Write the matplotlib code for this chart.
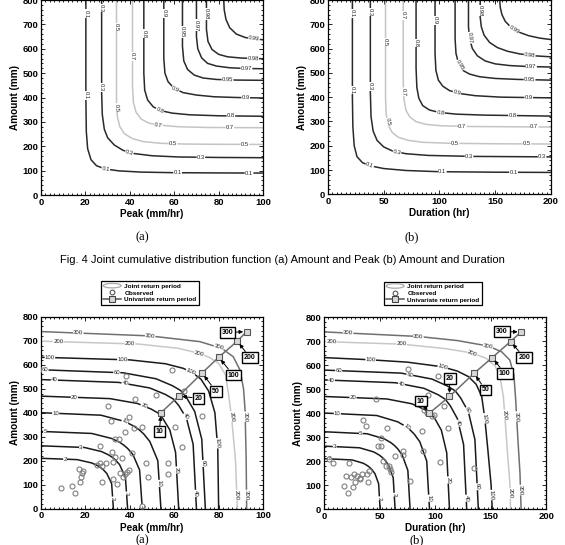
import numpy as np
import matplotlib
matplotlib.use('Agg')
import matplotlib.pyplot as plt
from matplotlib.ticker import MultipleLocator
from matplotlib.lines import Line2D
from matplotlib.patches import Ellipse, Patch
from matplotlib.legend_handler import HandlerPatch

plt.rcParams['font.family'] = ['Liberation Sans', 'DejaVu Sans']

# ---- Fig. 4: joint CDF contours ----
cdf_levels = ['0.1', '0.3', '0.5', '0.7', '0.8', '0.9', '0.95', '0.97', '0.98', '0.99']

peak_x = [[20.2, 20.2, 20.4, 21, 22.5, 25, 29, 35, 45, 60, 80, 100],
          [27.3, 27.3, 27.6, 28.5, 30, 33, 37, 42, 50, 62, 80, 100],
          [34, 34, 34.4, 35.5, 37.5, 41, 46, 54, 65, 80, 100],
          [41.2, 41.2, 41.6, 42.8, 45, 48.5, 53, 62, 75, 100],
          [46.3, 46.3, 46.7, 48, 50.5, 54, 59, 67, 80, 100],
          [55.3, 55.3, 55.8, 57.2, 60, 64, 70, 78, 88, 100],
          [63.7, 63.7, 64.3, 66, 69, 73, 79, 88, 100],
          [70, 70, 70.6, 72.3, 75, 79, 85, 92, 100],
          [74.5, 74.5, 75.2, 77, 80, 84, 90, 100],
          [82.3, 82.5, 83.3, 85, 88, 92, 96, 100]]
peak_y = [[800, 400, 260, 190, 145, 120, 107, 99, 94, 91.5, 90.5, 90],
          [800, 420, 330, 270, 235, 205, 183, 170, 161, 156, 154, 153],
          [800, 380, 320, 280, 252, 232, 219, 212, 209, 208, 207.5],
          [800, 450, 380, 340, 312, 295, 287, 280, 277, 276],
          [800, 500, 430, 390, 362, 346, 336, 329, 325, 323],
          [800, 560, 500, 465, 437, 420, 410, 403, 400, 398],
          [800, 610, 550, 515, 492, 480, 474, 471.5, 470.5],
          [800, 650, 600, 563, 540, 529, 522, 519, 518],
          [800, 680, 630, 597, 577, 567, 562, 559],
          [800, 760, 720, 686, 660, 646, 640, 637]]

dur_x = [[21.9, 21.9, 22.3, 23.5, 26, 31, 38, 50, 70, 100, 150, 200],
         [38, 38, 38.6, 40.5, 44, 50, 58, 70, 90, 130, 200],
         [51.6, 51.6, 52.2, 54, 57.5, 63, 72, 85, 110, 150, 200],
         [67.5, 67.5, 68.2, 70, 73.5, 79, 88, 102, 130, 200],
         [79, 79, 79.7, 81.5, 85, 91, 100, 115, 140, 200],
         [96, 96, 96.8, 99, 103, 109, 118, 132, 155, 200],
         [114, 114, 114.8, 117, 121, 127, 136, 150, 170, 200],
         [126, 126, 127, 129.5, 134, 141, 150, 163, 180, 200],
         [136.5, 136.5, 137.5, 140, 145, 152, 161, 172, 186, 200],
         [154, 154.5, 156, 159, 164, 171, 180, 190, 200]]
dur_y = [[800, 400, 280, 200, 155, 130, 117, 106, 98, 93, 91, 90],
         [800, 420, 320, 260, 222, 195, 178, 167, 160, 156, 154],
         [800, 400, 330, 285, 255, 235, 222, 214, 210, 208, 207],
         [800, 460, 390, 345, 318, 299, 288, 282, 279, 277],
         [800, 520, 440, 395, 365, 347, 337, 330, 326, 322],
         [800, 580, 510, 470, 445, 427, 415, 406, 400, 397],
         [800, 640, 580, 540, 510, 495, 484, 477, 473, 470],
         [800, 690, 640, 600, 570, 549, 537, 530, 526, 524],
         [800, 730, 690, 655, 625, 604, 589, 578, 570, 566],
         [800, 770, 740, 712, 688, 668, 653, 643, 637]]

# ---- Fig. 5: joint return period contours ----
rp_levels = ['2', '3', '5', '10', '20', '40', '60', '100', '200', '300']

rp_peak_x = [[0, 16.3, 22.8, 25.4, 26.7, 27.9, 29.6, 31.8, 32.6],
             [0, 19.5, 27.3, 30.4, 32, 33.4, 35.4, 38, 39],
             [0, 22.8, 31.9, 35.6, 37.4, 39, 41.4, 44.4, 45.6],
             [0, 27, 37.8, 42.1, 44.3, 46.2, 49, 52.6, 54],
             [0, 31, 43.4, 49.6, 52.7, 54.9, 58, 60.6, 62],
             [0, 35, 49, 56, 59.5, 62, 65.5, 68.5, 70],
             [0, 37, 51.8, 59.2, 62.9, 65.5, 69.2, 72.4, 74],
             [0, 40, 56, 64, 68, 72, 75.5, 78.3, 79.6, 80],
             [0, 44, 62, 71.3, 76, 79.9, 83, 84.4, 85.8, 87.6, 88.4],
             [0, 49, 71.6, 81.4, 86.6, 89.6, 91.2, 91.9, 92.4, 92.6]]
rp_peak_y = [[210, 204.5, 190.7, 179.8, 172.2, 163.8, 147, 105, 0],
             [262, 255.2, 237.9, 224.3, 214.8, 204.4, 183.4, 131, 0],
             [322, 313.6, 292.4, 275.6, 264, 251.2, 225.4, 161, 0],
             [400, 389.6, 363.2, 342.4, 328, 312, 280, 200, 0],
             [469, 458.7, 438.5, 415.1, 398.7, 375.2, 328.3, 234.5, 0],
             [538, 526.2, 503, 476.1, 457.3, 430.4, 376.6, 269, 0],
             [579, 566.3, 541.4, 512.4, 492.2, 463.2, 405.3, 289.5, 0],
             [631, 620, 604, 585, 568, 540, 490, 400, 250, 0],
             [698, 686, 668, 647, 630, 606, 560, 481, 383, 200, 0],
             [738, 720, 696, 668, 633, 578, 500, 411, 200, 0]]

rp_dur_x = [[0, 25.3, 35.4, 39.4, 41.4, 43.2, 45.9, 49.2, 50.5],
            [0, 32, 44.8, 49.9, 52.5, 54.8, 58.1, 62.3, 64],
            [0, 38.8, 54.3, 60.5, 63.6, 66.3, 70.4, 75.5, 77.5],
            [0, 47.5, 66.5, 74.1, 77.9, 81.3, 86.3, 92.5, 95],
            [0, 56.5, 79.1, 90.4, 96.1, 100, 105.7, 110.5, 113],
            [0, 64.3, 90, 102.8, 109.2, 113.7, 120.1, 125.7, 128.5],
            [0, 69.5, 97.3, 111.2, 118.2, 123, 130, 135.9, 139],
            [0, 41, 75, 106, 120, 130, 137, 142, 144.8, 147.5, 150.5, 151.5],
            [0, 29, 70, 110, 133.6, 146, 154, 158.5, 161.5, 162.8, 165, 167.5, 168],
            [0, 85, 120, 148, 160, 167.3, 171, 172.7, 174.5, 176.5, 177.5]]
rp_dur_y = [[210, 204.5, 190.7, 179.8, 172.2, 163.8, 147, 105, 0],
            [262, 255.2, 237.9, 224.3, 214.8, 204.4, 183.4, 131, 0],
            [322, 313.6, 292.4, 275.6, 264, 251.2, 225.4, 161, 0],
            [400, 389.6, 363.2, 342.4, 328, 312, 280, 200, 0],
            [469, 458.7, 438.5, 415.1, 398.7, 375.2, 328.3, 234.5, 0],
            [538, 526.2, 503, 476.1, 457.3, 430.4, 376.6, 269, 0],
            [579, 566.3, 541.4, 512.4, 492.2, 463.2, 405.3, 289.5, 0],
            [631, 622, 612, 593, 575, 552, 520, 470, 378, 250, 100, 0],
            [698, 693, 687, 668, 650, 628, 597, 550, 470, 392, 250, 100, 0],
            [738, 719, 702, 679, 655, 621, 560, 450, 300, 150, 0]]

uni_labels = ['10', '20', '50', '100', '200', '300']
uni_amount = [400, 469, 565, 631, 698, 738]
uni_peak = [54, 62, 72.5, 80, 88.4, 92.6]
uni_dur = [95, 113, 135, 151.5, 168, 177.5]

obs_peak = [9, 13.8, 15.3, 17.1, 17.7, 18, 18.6, 18.7, 25.3, 26.5, 26.5, 27.3, 27.6, 29.2, 30.3,
            31.5, 32, 32.2, 32.5, 33.3, 33.3, 35, 34, 35.5, 36.6, 37, 37.8, 37.8, 38.2, 38.7,
            39.4, 39.7, 41, 42.1, 42.3, 45.3, 45.7, 47.5, 48.3, 51.7, 57, 57, 58.8, 60.3, 63.6,
            64.3, 72.6]
obs_peak_amt = [86, 94, 64, 167, 112, 133, 147, 157, 182, 261, 192, 178, 110, 192, 429,
                365, 237, 196, 122, 217, 289, 290, 103, 147, 212, 133, 321, 143, 553, 153,
                383, 162, 233, 335, 457, 339, 10, 189, 133, 472, 189, 145, 580, 342, 258,
                492, 388]
obs_dur = [4.5, 8.1, 17.8, 19.6, 21.7, 22.6, 24.7, 26.2, 26.8, 27.7, 29.8, 32.2, 32.8, 34.3,
           35.2, 37.7, 38.9, 39.8, 40.7, 46.7, 48.8, 51.2, 51.2, 53.3, 55.7, 56.3, 58.4, 59.3,
           60, 63.9, 71.4, 70.8, 75.9, 77.4, 88, 88.9, 90, 92.5, 94, 97, 99, 103, 108.4, 104.5,
           112, 135.5]
obs_dur_amt = [210, 192, 97, 136, 67, 192, 132, 90, 146, 111, 136, 129, 125, 146, 372, 344,
               146, 112, 160, 458, 264, 296, 261, 199, 178, 338, 178, 167, 153, 222, 240, 224,
               583, 115, 324, 243, 414, 400, 476, 389, 393, 553, 431, 194, 338, 171]

# where the contour labels sit (snapped onto the line)
peak_spots = [[(20.2, 744), (20.2, 409), (29.2, 109), (61.5, 90), (93.7, 90)],
              [(27.3, 768), (27.6, 441), (39.7, 172), (72, 154)],
              [(34, 689), (34.3, 359), (59.5, 210), (91.8, 208)],
              [(41.2, 569), (52.8, 288), (85, 276)],
              [(46.5, 662), (53.5, 348), (85.5, 324)],
              [(55.3, 745), (60.6, 435), (92.2, 398)],
              [(63.7, 668), (84, 471)],
              [(70, 696), (92.5, 518)],
              [(74.5, 743), (95.5, 559)],
              [(95.8, 638)]]
dur_spots = [[(21.9, 744), (21.9, 429), (37.5, 120), (102.5, 100), (166.4, 91)],
             [(38, 750), (38, 445), (62, 175), (126.5, 156), (192, 154)],
             [(51.6, 627), (55.5, 299), (114, 210), (178.4, 208)],
             [(67.5, 737), (69, 422), (120.5, 280), (185, 277)],
             [(79, 623), (101, 340), (165.5, 326)],
             [(96, 716), (115.4, 415), (180, 400)],
             [(120.8, 538), (180.8, 473)],
             [(128.3, 645), (182, 526)],
             [(136.4, 757), (180.8, 570)],
             [(166.4, 675)]]
rp_peak_spots = [[(10.8, 207), (32.6, 43)],
                 [(18, 258), (39, 64)],
                 [(1.8, 321), (45.6, 11)],
                 [(6.6, 395), (37.8, 362), (54, 106)],
                 [(15, 464), (46.1, 422), (61.1, 161)],
                 [(6, 536), (37.8, 520), (64.9, 383), (69.7, 64)],
                 [(1.8, 575), (34.1, 564), (73.9, 189)],
                 [(4, 627), (36.6, 613), (67.1, 564), (78.4, 272)],
                 [(7.8, 696), (40.1, 680), (71.3, 647), (85.1, 383), (87.8, 57)],
                 [(16.8, 733), (49.1, 717), (79.9, 668), (92, 383), (92.6, 57)]]
rp_dur_spots = [[(5.1, 208), (50.5, 45)],
                [(9.6, 260), (64, 60)],
                [(33.1, 311)],
                [(12, 396), (74.2, 340), (94.9, 45)],
                [(26.1, 464), (112, 121)],
                [(6.6, 538), (69.6, 517), (120.7, 357), (128.5, 45)],
                [(13.2, 575), (77.2, 558), (129.7, 412), (138.1, 93)],
                [(42, 621), (107.2, 596), (144.8, 378), (150.2, 58)],
                [(6.6, 699), (69.9, 687), (133.6, 649), (162.8, 392), (167.6, 65)],
                [(21.7, 737), (85, 719), (147.7, 679), (172.7, 385), (177.2, 79)]]
peak_boxes = [(53.3, 321), (70.9, 460), (78.8, 490), (86.6, 557), (94.1, 630), (83.9, 734)]
dur_boxes = [(87.1, 450), (113.2, 545), (145.6, 496), (162.8, 565), (180.2, 632), (160.4, 739)]

cdf_colors = ['#2a2a2a', '#2a2a2a', '#c4c4c4', '#c4c4c4', '#2a2a2a', '#2a2a2a',
              '#2a2a2a', '#2a2a2a', '#2a2a2a', '#2a2a2a']
rp_colors = ['#1a1a1a'] * 8 + ['#c8c8c8', '#707070']


def label_line(ax, xs, ys, spots, text, size=4.2):
    pts = ax.transData.transform(np.column_stack([xs, ys]))
    for sx, sy in spots:
        p = ax.transData.transform((sx, sy))
        best = None
        for i in range(len(pts) - 1):
            a, b = pts[i], pts[i + 1]
            d = b - a
            t = np.clip(np.dot(p - a, d) / np.dot(d, d), 0, 1)
            q = a + t * d
            dist = np.hypot(*(p - q))
            if best is None or dist < best[0]:
                best = (dist, q, d)
        _, q, d = best
        ang = np.degrees(np.arctan2(d[1], d[0]))
        x, y = ax.transData.inverted().transform(q)
        ax.text(x, y, text, rotation=ang, rotation_mode='anchor', ha='center', va='center',
                fontsize=size, color='#222222', zorder=3,
                bbox=dict(fc='white', ec='none', pad=0.15))


def style(ax, xmax, xmajor, xminor, xlabel):
    ax.set_xlim(0, xmax)
    ax.set_ylim(0, 800)
    ax.xaxis.set_major_locator(MultipleLocator(xmajor))
    ax.xaxis.set_minor_locator(MultipleLocator(xminor))
    ax.yaxis.set_major_locator(MultipleLocator(100))
    ax.yaxis.set_minor_locator(MultipleLocator(20))
    ax.tick_params(which='both', direction='in', top=True, right=True, labelsize=6.8, pad=2,
                   width=0.6)
    ax.tick_params(which='major', length=3)
    ax.tick_params(which='minor', length=1.5)
    for lab in ax.get_xticklabels() + ax.get_yticklabels():
        lab.set_fontweight('bold')
    for s in ax.spines.values():
        s.set_linewidth(0.9)
    ax.set_xlabel(xlabel, fontsize=7.2, fontweight='bold', labelpad=1.5)
    ax.set_ylabel('Amount (mm)', fontsize=7.2, fontweight='bold', labelpad=2)


class HandlerEllipse(HandlerPatch):
    def create_artists(self, legend, orig_handle, xdescent, ydescent, width, height, fontsize, trans):
        c = (0.5 * width - 0.5 * xdescent, 0.5 * height - 0.5 * ydescent)
        e = Ellipse(xy=c, width=width + xdescent, height=height + ydescent)
        self.update_prop(e, orig_handle, legend)
        e.set_transform(trans)
        return [e]


fig = plt.figure(figsize=(5.65, 5.45), dpi=100)

ax_a = fig.add_axes([0.0726, 0.6422, 0.393, 0.3578])
ax_b = fig.add_axes([0.5805, 0.6435, 0.3947, 0.3565])
ax_c = fig.add_axes([0.0726, 0.0666, 0.393, 0.3523])
ax_d = fig.add_axes([0.5735, 0.066, 0.393, 0.3523])

style(ax_a, 100, 20, 2, 'Peak (mm/hr)')
style(ax_b, 200, 50, 4, 'Duration (hr)')
style(ax_c, 100, 20, 2, 'Peak (mm/hr)')
style(ax_d, 200, 50, 4, 'Duration (hr)')

# top row
for ax, xs_all, ys_all, spots_all in [(ax_a, peak_x, peak_y, peak_spots),
                                       (ax_b, dur_x, dur_y, dur_spots)]:
    for i, lev in enumerate(cdf_levels):
        ax.plot(xs_all[i], ys_all[i], color=cdf_colors[i], lw=1.1, zorder=2)
        label_line(ax, xs_all[i], ys_all[i], spots_all[i], lev)

# bottom row
for ax, xs_all, ys_all, spots_all, ox, oy, ux, boxes in [
        (ax_c, rp_peak_x, rp_peak_y, rp_peak_spots, obs_peak, obs_peak_amt, uni_peak, peak_boxes),
        (ax_d, rp_dur_x, rp_dur_y, rp_dur_spots, obs_dur, obs_dur_amt, uni_dur, dur_boxes)]:
    for i, lev in enumerate(rp_levels):
        ax.plot(xs_all[i], ys_all[i], color=rp_colors[i], lw=1.1, zorder=2)
        label_line(ax, xs_all[i], ys_all[i], spots_all[i], lev, size=4.3)
    ax.plot(ox, oy, 'o', ms=3.6, mfc='none', mec='#808080', mew=0.8, zorder=4)
    ax.plot(ux, uni_amount, '-s', color='#6e6e6e', lw=1.1, ms=4.2, mfc='#d8d8d8',
            mec='#555555', mew=0.8, zorder=5)
    for lab, x, y, (bx, by) in zip(uni_labels, ux, uni_amount, boxes):
        ax.annotate(lab, xy=(x, y), xytext=(bx, by), ha='center', va='center',
                    fontsize=5, fontweight='bold', zorder=6,
                    bbox=dict(boxstyle='square,pad=0.28', fc='white', ec='black', lw=1.0),
                    arrowprops=dict(arrowstyle='-|>', color='black', lw=0.7,
                                    mutation_scale=5.5, shrinkA=0, shrinkB=2.5))
    handles = [Patch(facecolor='white', edgecolor='#aaaaaa', lw=0.9),
               Line2D([], [], ls='none', marker='o', ms=3.4, mfc='none', mec='#555555', mew=0.8),
               Line2D([], [], color='#555555', lw=1.1, marker='s', ms=3.8, mfc='#d8d8d8',
                      mec='#444444', mew=0.8)]
    leg = ax.legend(handles, ['Joint return period', 'Observed', 'Univariate return period'],
                    handler_map={Patch: HandlerEllipse()},
                    loc='upper center', bbox_to_anchor=(0.49, 1.185),
                    prop={'size': 4.6, 'weight': 'bold'},
                    fancybox=False, framealpha=1, edgecolor='black', handlelength=2.8,
                    borderpad=0.35, labelspacing=0.2, handletextpad=0.5, borderaxespad=0)
    leg.get_frame().set_linewidth(0.9)

fig.text(0.251, 0.565, '(a)', ha='center', va='center', fontsize=9, family='Liberation Serif')
fig.text(0.729, 0.565, '(b)', ha='center', va='center', fontsize=9, family='Liberation Serif')
fig.text(0.5, 0.523, 'Fig. 4 Joint cumulative distribution function (a) Amount and Peak (b) Amount and Duration',
         ha='center', va='center', fontsize=8)
fig.text(0.251, 0.008, '(a)', ha='center', va='center', fontsize=9, family='Liberation Serif')
fig.text(0.7375, 0.008, '(b)', ha='center', va='center', fontsize=9, family='Liberation Serif')

fig.savefig('out.png', dpi=100)
